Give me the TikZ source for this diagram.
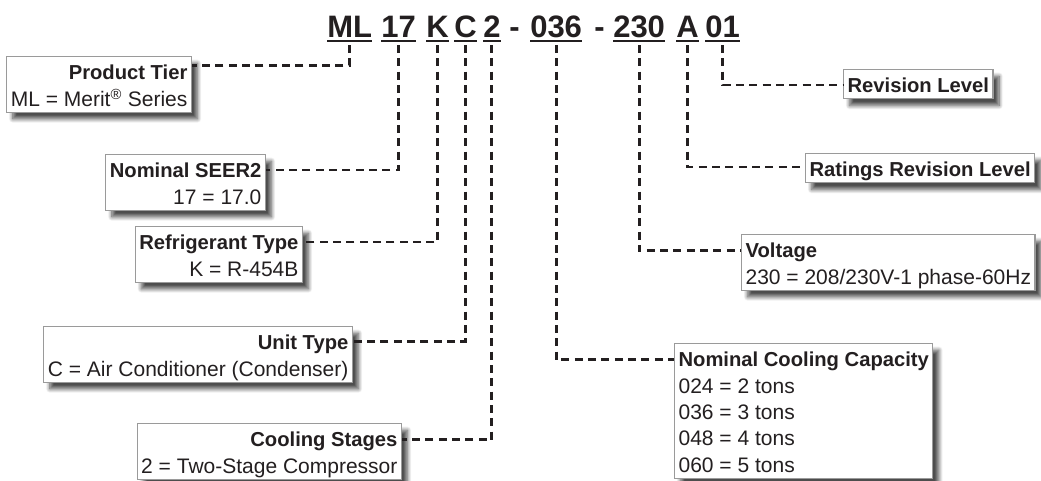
\documentclass[tikz,border=0pt]{standalone}
\usepackage{fontspec}
\setmainfont{Liberation Sans}
\usetikzlibrary{shadows.blur}
\definecolor{ink}{HTML}{231F20}
\definecolor{boxline}{HTML}{9A9A9A}
\newcommand\topst{\rule{0pt}{17.25pt}}
\newcommand\botst{\rule[-4.7pt]{0pt}{0pt}}
\newcommand\hd[1]{{\fontsize{15.15pt}{19.8pt}\selectfont\bfseries #1}}
\begin{document}
\begin{tikzpicture}[x=0.75pt,y=-0.75pt,
  seg/.style={inner sep=0pt, anchor=base west, font=\fontsize{23.25pt}{28pt}\selectfont\bfseries, text=ink},
  uline/.style={line width=1.8pt, draw=ink},
  conn/.style={line width=2.1pt, draw=ink, dash pattern=on 6pt off 4pt},
  lbox/.style={draw=boxline, line width=0.9pt, fill=white, inner xsep=3pt, inner ysep=0pt,
    font=\fontsize{15.75pt}{19.8pt}\selectfont, text=ink,
    blur shadow={shadow xshift=4.5pt, shadow yshift=-5pt, shadow blur radius=3pt, shadow blur steps=10, shadow opacity=70}},
  lft/.style={lbox, align=right, anchor=north east},
  rgt/.style={lbox, align=left, anchor=north west}]
\useasboundingbox (0,0) rectangle (1041,480);
% title segments
\node[seg] (sML) at (327,37) {ML};
\node[seg] (s17) at (381,37) {17};
\node[seg] (sK) at (426,37) {K};
\node[seg] (sC) at (454,37) {C};
\node[seg] (s2) at (483,37) {2};
\node[seg] (h1) at (509,37) {-};
\node[seg] (s036) at (530,37) {036};
\node[seg] (h2) at (594,37) {-};
\node[seg] (s230) at (613,37) {230};
\node[seg] (sA) at (676,37) {A};
\node[seg] (s01) at (705,37) {01};
\foreach \n in {sML,s17,sK,sC,s2,s036,s230,sA,s01}
  \draw[uline] ([yshift=-3pt]\n.base west) -- ([yshift=-3pt]\n.base east);
% left boxes
\node[lft] (pt) at (192,56) {\topst\hd{Product Tier}\\ML = Merit\textsuperscript{®} Series\botst};
\node[lft] (seer) at (266,154) {\topst\hd{Nominal SEER2}\\17 = 17.0\botst};
\node[lft] (ref) at (303,226) {\topst\hd{Refrigerant Type}\\K = R-454B\botst};
\node[lft] (unit) at (353,326) {\topst\hd{Unit Type}\\C = Air Conditioner (Condenser)\botst};
\node[lft] (stage) at (402,423) {\topst\hd{Cooling Stages}\\2 = Two-Stage Compressor\botst};
% right boxes
\node[rgt] (rev) at (843,69) {\topst\hd{Revision Level}\botst};
\node[rgt] (rrl) at (805,153) {\topst\hd{Ratings Revision Level}\botst};
\node[rgt] (volt) at (741,234) {\topst\hd{Voltage}\\230 = 208/230V-1 phase-60Hz\botst};
\node[rgt] (cap) at (674,343) {\topst\hd{Nominal Cooling Capacity}\\024 = 2 tons\\036 = 3 tons\\048 = 4 tons\\060 = 5 tons\botst};
% connectors
\draw[conn] ([yshift=-6pt]sML.base) |- ([yshift=-7pt]pt.north east);
\draw[conn] ([yshift=-6pt]s17.base) |- ([yshift=-12pt]seer.north east);
\draw[conn] ([yshift=-6pt]sK.base) |- ([yshift=-12pt]ref.north east);
\draw[conn] ([yshift=-6pt]sC.base) |- ([yshift=-11.5pt]unit.north east);
\draw[conn] ([yshift=-6pt]s2.base) |- ([yshift=-12.5pt]stage.north east);
\draw[conn] ([yshift=-6pt]s036.base) |- ([yshift=-12.5pt]cap.north west);
\draw[conn] ([yshift=-6pt]s230.base) |- ([yshift=-12.5pt]volt.north west);
\draw[conn] ([yshift=-6pt]sA.base) |- ([yshift=-10.5pt]rrl.north west);
\draw[conn] ([yshift=-6pt]s01.base) |- ([yshift=-12pt]rev.north west);
\end{tikzpicture}
\end{document}
